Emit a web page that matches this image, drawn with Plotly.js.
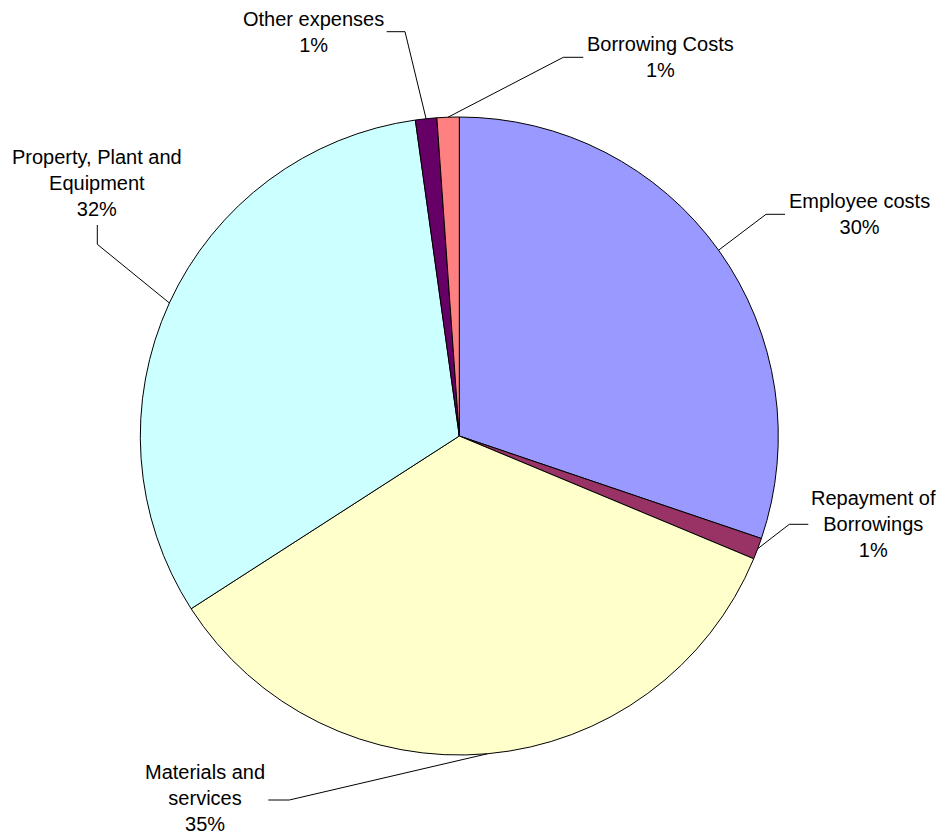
<!DOCTYPE html>
<html>
<head>
<meta charset="utf-8">
<script src="https://cdn.plot.ly/plotly-3.0.1.min.js"></script>
<style>html,body{margin:0;padding:0;background:#fff;}#chart{width:942px;height:835px;}</style>
</head>
<body>
<div id="chart"></div>
<script>
// ---- data ----
const categories = ["Employee costs", "Repayment of Borrowings", "Materials and services", "Property, Plant and Equipment", "Other expenses", "Borrowing Costs"];
const values = [30.2, 1.08, 34.6, 31.9, 1.08, 1.12];
const labelLines = ["Employee costs", "Repayment of<br>Borrowings", "Materials and<br>services", "Property, Plant and<br>Equipment", "Other expenses", "Borrowing Costs"];
const sliceColors = ["#9999FF", "#993366", "#FFFFCC", "#CCFFFF", "#660066", "#FF8080"];

// ---- layout (pixels) ----
const W = 942, H = 835;
const domX = [0.14894, 0.82622];
const domY = [0.0958, 0.85988];
// label text centre, leader elbow, leader end (pixels)
const labelPos = [
  {t: [859.5, 214.3], e: [766, 214.3], f: [785, 214.3]},
  {t: [873.5, 524.3], e: [789.3, 524.3], f: [808.3, 524.3]},
  {t: [205, 797.5], e: [289.3, 800], f: [268.3, 800]},
  {t: [97.3, 183], e: [97.3, 244.3], f: [97.3, 225]},
  {t: [313, 31.7], e: [405, 31.7], f: [386.7, 31.7]},
  {t: [660, 57.3], e: [563.3, 57.3], f: [583.3, 57.3]}
];

const total = values.reduce((a, b) => a + b, 0);
const cx = (domX[0] + domX[1]) / 2 * W;
const cy = (1 - (domY[0] + domY[1]) / 2) * H;
const r = Math.min((domX[1] - domX[0]) * W, (domY[1] - domY[0]) * H) / 2;

const px = x => x / W;
const py = y => 1 - y / H;

const annotations = [];
const shapes = [];
let cum = 0;
values.forEach((v, i) => {
  const mid = (cum + v / 2) / total * 2 * Math.PI;
  cum += v;
  const ex = cx + r * Math.sin(mid), ey = cy - r * Math.cos(mid);
  const lp = labelPos[i];
  shapes.push({
    type: 'path', xref: 'paper', yref: 'paper',
    path: `M ${px(ex)} ${py(ey)} L ${px(lp.e[0])} ${py(lp.e[1])} L ${px(lp.f[0])} ${py(lp.f[1])}`,
    line: {color: '#000', width: 1}
  });
  annotations.push({
    xref: 'paper', yref: 'paper', x: px(lp.t[0]), y: py(lp.t[1]),
    xanchor: 'center', yanchor: 'middle', showarrow: false, align: 'center',
    borderpad: 0,
    text: labelLines[i] + '<br>' + Math.round(v / total * 100) + '%',
    font: {family: 'Liberation Sans, Arial, sans-serif', size: 20, color: '#000'}
  });
});

const trace = {
  type: 'pie',
  labels: categories,
  values: values,
  sort: false,
  direction: 'clockwise',
  rotation: 0,
  textinfo: 'none',
  hoverinfo: 'label+percent',
  marker: {colors: sliceColors, line: {color: '#000', width: 1}},
  domain: {x: domX, y: domY},
  showlegend: false
};

const layout = {
  width: W, height: H,
  margin: {l: 0, r: 0, t: 0, b: 0},
  paper_bgcolor: '#fff',
  plot_bgcolor: '#fff',
  showlegend: false,
  annotations: annotations,
  shapes: shapes,
  font: {family: 'Liberation Sans, Arial, sans-serif', size: 20, color: '#000'}
};

Plotly.newPlot('chart', [trace], layout, {displayModeBar: false, staticPlot: true});
</script>
</body>
</html>
